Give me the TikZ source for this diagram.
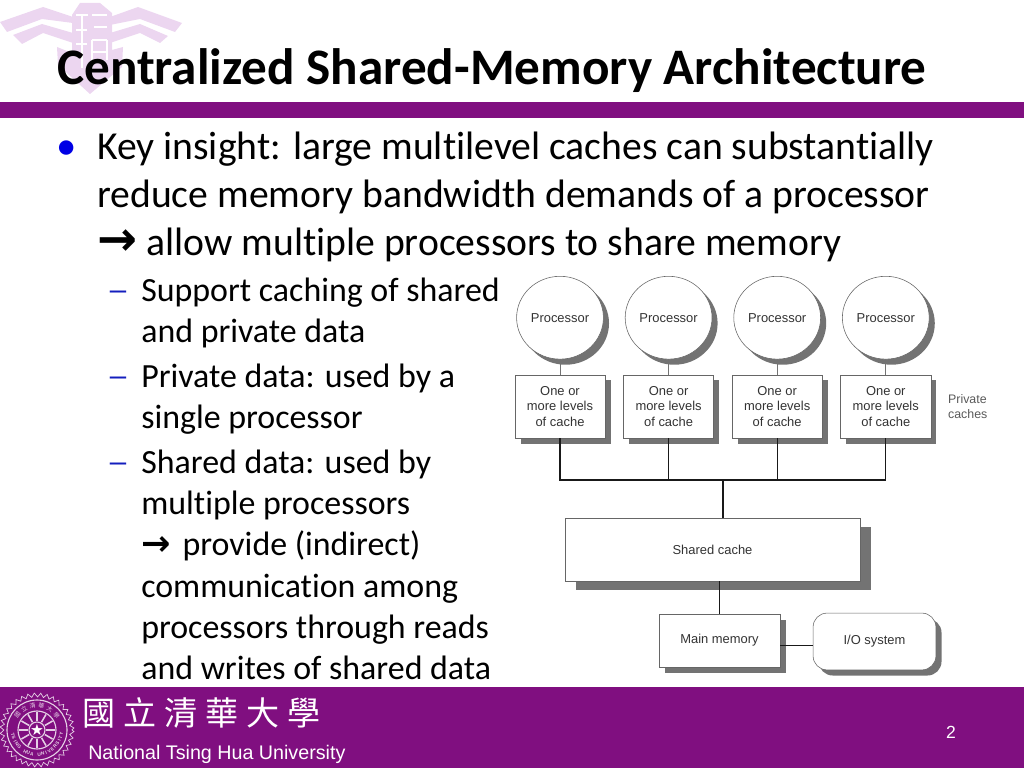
\documentclass[tikz,border=0pt]{standalone}
\usepackage{fontspec}
\setmainfont[Ligatures=NoCommon]{Carlito}
\newfontfamily\hvfont{Liberation Sans}
\newfontfamily\djvfont{DejaVu Sans}
\newfontfamily\cjkfont[LetterSpace=24]{Noto Sans CJK TC}
\newfontfamily\sealfont{Noto Sans CJK TC}
\usepackage{tikz}
\usetikzlibrary{positioning,shadows,shapes.geometric,decorations.pathmorphing}
\definecolor{nthu}{RGB}{128,15,128}
\definecolor{crest}{RGB}{236,214,240}
\definecolor{dashblue}{RGB}{20,30,190}
\colorlet{seal}{white!80!nthu}
\newcommand{\rarr}[1]{{\djvfont\bfseries\fontsize{#1}{#1}\selectfont\char"2192}}
\begin{document}
\begin{tikzpicture}
            [x=.025cm,y=-.025cm,
            shade1/.style={drop shadow={shadow xshift=.14cm,shadow yshift=-.14cm,fill=black!55,opacity=1}},
            shade2/.style={drop shadow={shadow xshift=.27cm,shadow yshift=-.22cm,fill=black!55,opacity=1}},
            proc/.style={ellipse,draw=black!60,fill=white,minimum width=2.17cm,minimum height=2.07cm,inner sep=0,shade1,font=\hvfont\fontsize{9.2}{11}\selectfont,text=black!80},
            plainbox/.style={rectangle,draw=black!60,fill=white,inner sep=0,align=center,font=\hvfont\fontsize{9.2}{11}\selectfont,text=black!80},
            cachebox/.style={plainbox,minimum width=2.25cm,minimum height=1.58cm,shade1},
            wire/.style={draw=black!90,line width=.75pt},
            stem/.style={draw=black!55,line width=.7pt},
            point/.style={anchor=base west,inner sep=0,font=\fontsize{28.2}{34.1}\selectfont},
            subpoint/.style={anchor=north west,inner sep=0,align=left,font=\fontsize{24.1}{29.2}\selectfont},
            mark1/.style={anchor=base,inner sep=0,text=blue!90!black,font=\fontsize{29}{34}\selectfont},
            mark2/.style={anchor=base,inner sep=0,text=dashblue,font=\hvfont\fontsize{21}{29}\selectfont}]
            \useasboundingbox (0,0) rectangle (1024,768);
            \fill[crest] (0,22)--(43,7)--(73,17)--(73,23)--(42,19)--(7,32)--cycle;
            \fill[crest] (13,35)--(42,24)--(73,33)--(73,43)--(43,33)--(22,44)--cycle;
            \fill[crest] (110,17)--(138,7)--(182,23)--(175,32)--(140,19)--(110,25)--cycle;
            \fill[crest] (110,33)--(140,24)--(168,36)--(160,43)--(140,33)--(110,43)--cycle;
            \fill[crest] (72,15)--(80,3)--(100,3)--(112,13)--(112,50)--(123,47)--(122,67)--(90,94)--(58,65)--(57,47)--(72,53)--cycle;
            \draw[white,line width=1.6pt] (76,15)--(88,15) (82,15)--(82,68) (76,30)--(87,30) (76,44)--(87,44)
            (92,15)--(107,15) (94,27)--(107,27) (92,40)--(107,40) (92,40)--(92,68) (107,40)--(107,60) (92,52)--(107,52);
            \fill[nthu] (0,102) rectangle (1024,118);
            \fill[nthu] (0,687) rectangle (1024,768);
            \node[anchor=base west,inner sep=0,font=\bfseries\fontsize{36.4}{40}\selectfont](title) at (57,85) {Centralized Shared-Memory Architecture};
            \node[mark1](m0) at (67,160) {•};
            \node[point](key1) at (97,159) {Key insight: large multilevel caches can substantially};
            \node[point](key2) at (97,207) {reduce memory bandwidth demands of a processor};
            \node[point](key3) at (97,255) {\rarr{34} allow multiple processors to share memory};
            \node[mark2](m1) at (118,299) {–};
            \node[mark2](m2) at (118,385) {–};
            \node[mark2](m3) at (118,471) {–};
            \node[subpoint](sub1) at (141,278) {Support caching of shared\\and private data};
            \node[subpoint](sub2) at (141,364) {Private data: used by a\\single processor};
            \node[subpoint](sub3) at (141,450) {Shared data: used by\\multiple processors\\\rarr{25}\hspace{3pt} provide (indirect)\\communication among\\processors through reads\\and writes of shared data};
            \node[cachebox](c1) at (560,406.5) {One or\\more levels\\of cache};
            \node[cachebox](c2)[right=.45cm of c1] {One or\\more levels\\of cache};
            \node[cachebox](c3)[right=.45cm of c2] {One or\\more levels\\of cache};
            \node[cachebox](c4)[right=.45cm of c3] {One or\\more levels\\of cache};
            \node[proc](p1)[above=.38cm of c1] {Processor};
            \node[proc](p2)[above=.38cm of c2] {Processor};
            \node[proc](p3)[above=.38cm of c3] {Processor};
            \node[proc](p4)[above=.38cm of c4] {Processor};
            \node[anchor=west,inner sep=0,align=left,text=black!65,font=\hvfont\fontsize{8.8}{10.8}\selectfont](pc)[right=.42cm of c4] {Private\\caches};
            \node[plainbox,shade2,minimum width=7.37cm,minimum height=1.58cm](sc) at (712.5,549.5) {Shared cache};
            \node[plainbox,shade1,minimum width=3.02cm,minimum height=1.32cm](mm) at (719.5,640.5) {Main memory};
            \node[plainbox,shade1,rounded corners=.35cm,minimum width=3.07cm,minimum height=1.42cm](io) at (874.5,641.5) {I/O system};
            \coordinate (bus) at (723,480);
            \path[stem] (p1) -- (c1) (p2) -- (c2) (p3) -- (c3) (p4) -- (c4);
            \draw[wire] (c1.south) |- (bus) (c4.south) |- (bus);
            \draw[wire] (c2.south) -- (c2.south|-bus) (c3.south) -- (c3.south|-bus);
            \draw[wire] (bus) -- (bus|-sc.north);
            \draw[wire] (sc.south-|mm.north) -- (mm.north);
            \draw[wire] ([yshift=-.125cm]mm.east) -- ([yshift=-.125cm]mm.east-|io.west);
            \draw[seal,line width=.5pt,decorate,decoration={zigzag,segment length=4.4pt,amplitude=1.4pt}] (37,730) circle (35);
            \draw[seal,line width=.8pt] (37,730) circle (30) (37,730) circle (19) (37,730) circle (8);
            \foreach \a in {0,30,...,330}
            \draw[seal,line width=1.1pt] (37,730)+(\a:9) -- +(\a:18);
            \node[white,inner sep=0,font=\fontsize{11}{11}\selectfont](star) at (37,730) {\djvfont\char"2605};
            \foreach \ch [count=\i] in {國,立,清,華,大,學}
            \node[seal,inner sep=0,rotate=73.5-\i*21,font=\sealfont\fontsize{4.2}{5}\selectfont](s\i) at ({37+24.5*cos(196.5+\i*21)},{730+24.5*sin(196.5+\i*21)}) {\ch};
            \foreach \ch [count=\i] in {T,S,I,N,G,{},H,U,A,{},U,N,I,V,E,R,S,I,T,Y}
            \node[seal,inner sep=0,rotate=\i*8.5-88.5,font=\hvfont\bfseries\fontsize{3.4}{4}\selectfont](t\i) at ({37+24.5*cos(178.5-\i*8.5)},{730+24.5*sin(178.5-\i*8.5)}) {\ch};
            \node[anchor=base west,inner sep=0,white,font=\cjkfont\fontsize{23.5}{28}\selectfont](cname) at (82,725) {國立清華大學};
            \node[anchor=base west,inner sep=0,white,font=\hvfont\fontsize{14}{16}\selectfont](ename) at (88,759) {National Tsing Hua University};
            \node[white,inner sep=0,font=\hvfont\fontsize{12.5}{15}\selectfont](page) at (951,732) {2};
        \end{tikzpicture}
\end{document}
